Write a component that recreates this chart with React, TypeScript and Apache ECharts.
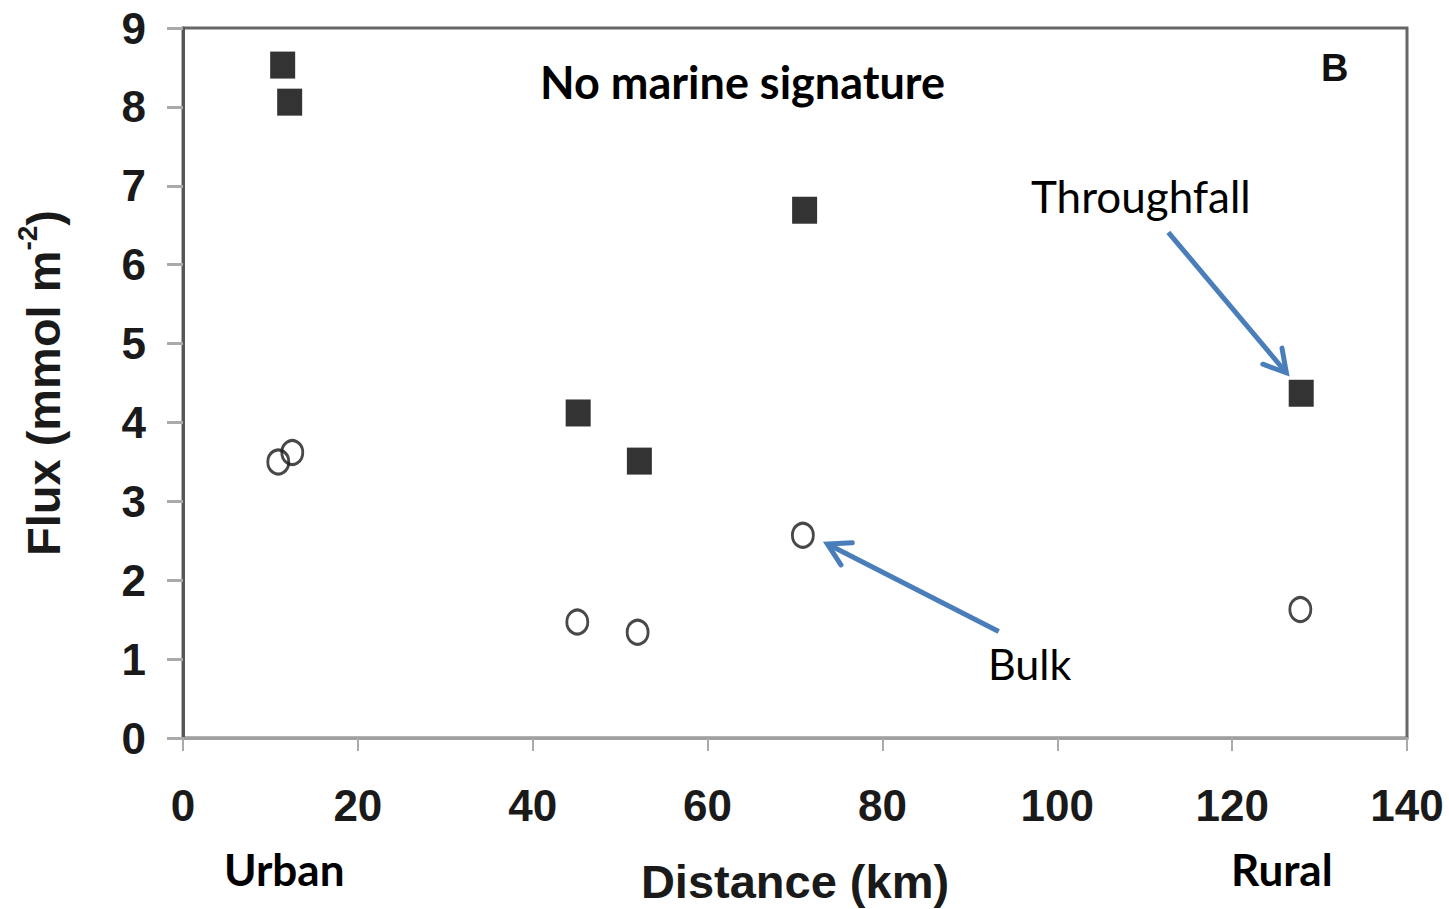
import React, { useEffect, useRef } from "react";
import * as echarts from "echarts";

const distanceThroughfall = [11.4, 12.2, 45.2, 52.2, 71.1, 127.9];
const fluxThroughfall = [8.53, 8.06, 4.12, 3.51, 6.69, 4.37];
const distanceBulk = [10.9, 12.5, 45.1, 52.0, 70.9, 127.8];
const fluxBulk = [3.5, 3.62, 1.47, 1.34, 2.57, 1.63];

const xName = "Distance (km)";
const yNameMain = "Flux (mmol m";
const yNameSup = "-2";
const panelLetter = "B";
const titleText = "No marine signature";

const arrowDefs = [
  { label: "Throughfall", from: [112.7, 6.41], to: [126.2, 4.63] },
  { label: "Bulk", from: [93.3, 1.35], to: [73.7, 2.46] },
];

const AX_FONT = "'Liberation Sans', Arial, sans-serif";
const NOTE_FONT = "Lato, 'Open Sans', sans-serif";
const ARROW_COLOR = "#4a7ebb";

export default function App() {
  const ref = useRef<HTMLDivElement>(null);

  useEffect(() => {
    if (!ref.current) return;
    const chart = echarts.init(ref.current, undefined, { renderer: "svg" });

    const tf = distanceThroughfall.map((d, i) => [d, fluxThroughfall[i]]);
    const bk = distanceBulk.map((d, i) => [d, fluxBulk[i]]);

    chart.setOption({
      animation: false,
      backgroundColor: "#ffffff",
      grid: {
        left: 183,
        top: 28,
        right: 42,
        bottom: 171,
        containLabel: false,
        outerBoundsMode: "none",
        show: true,
        borderColor: "#666",
        borderWidth: 3,
        backgroundColor: "transparent",
      },
      xAxis: {
        type: "value",
        min: 0,
        max: 140,
        interval: 20,
        name: xName,
        nameLocation: "middle",
        nameGap: 120,
        nameTextStyle: { fontFamily: AX_FONT, fontWeight: "bold", fontSize: 47, color: "#1a1a1a" },
        axisLine: { show: true, lineStyle: { color: "#a0a0a0", width: 3 } },
        axisTick: { show: true, length: 13, lineStyle: { color: "#aaa", width: 2 } },
        axisLabel: { margin: 45, fontFamily: AX_FONT, fontWeight: "bold", fontSize: 44, color: "#1a1a1a" },
        splitLine: { show: false },
      },
      yAxis: {
        type: "value",
        min: 0,
        max: 9,
        interval: 1,
        name: `{a|${yNameMain}}{s|${yNameSup}}{a|)}`,
        nameLocation: "middle",
        nameGap: 116,
        nameRotate: 90,
        nameTextStyle: {
          rich: {
            a: { fontFamily: AX_FONT, fontWeight: "bold", fontSize: 47, color: "#1a1a1a", lineHeight: 54, verticalAlign: "bottom" },
            s: { fontFamily: AX_FONT, fontWeight: "bold", fontSize: 28, color: "#1a1a1a", lineHeight: 54, verticalAlign: "top" },
          },
        },
        axisLine: { show: true, lineStyle: { color: "#555", width: 3 } },
        axisTick: { show: true, length: 16, lineStyle: { color: "#aaa", width: 3 } },
        axisLabel: { margin: 37, fontFamily: AX_FONT, fontWeight: "bold", fontSize: 44, color: "#1a1a1a" },
        splitLine: { show: false },
      },
      series: [
        {
          name: "Throughfall",
          type: "scatter",
          data: tf,
          symbol: "rect",
          symbolSize: [25, 27],
          itemStyle: { color: "#000", borderWidth: 0 },
        },
        {
          name: "Bulk",
          type: "scatter",
          data: bk,
          symbol: "circle",
          symbolSize: [21, 24],
          itemStyle: { color: "rgba(255,255,255,0)", borderColor: "#1a1a1a", borderWidth: 3 },
        },
      ],
    });

    const graphics: any[] = [];
    arrowDefs.forEach((a) => {
      const p0 = chart.convertToPixel({ gridIndex: 0 }, a.from) as number[];
      const p1 = chart.convertToPixel({ gridIndex: 0 }, a.to) as number[];
      const dx = p1[0] - p0[0];
      const dy = p1[1] - p0[1];
      const len = Math.sqrt(dx * dx + dy * dy);
      const ux = -dx / len;
      const uy = -dy / len;
      const ang = (30 * Math.PI) / 180;
      const L = 25;
      const rot = (s: number) => [
        p1[0] + L * (ux * Math.cos(s * ang) - uy * Math.sin(s * ang)),
        p1[1] + L * (ux * Math.sin(s * ang) + uy * Math.cos(s * ang)),
      ];
      graphics.push({
        type: "line",
        shape: { x1: p0[0], y1: p0[1], x2: p1[0], y2: p1[1] },
        style: { stroke: ARROW_COLOR, lineWidth: 5, lineCap: "butt" },
        z: 10,
      });
      graphics.push({
        type: "polyline",
        shape: { points: [rot(1), p1, rot(-1)] },
        style: { stroke: ARROW_COLOR, lineWidth: 5, fill: null, lineJoin: "miter", lineCap: "round" },
        z: 10,
      });
    });

    const note = (text: string, x: number, y: number, bold: boolean, size: number) => ({
      type: "text",
      x,
      y,
      z: 20,
      style: {
        text,
        fontFamily: NOTE_FONT,
        fontWeight: bold ? "bold" : "normal",
        fontSize: size,
        fill: "#000",
        textAlign: "left",
        textVerticalAlign: "middle",
      },
    });

    graphics.push(note(titleText, 540, 82, true, 45));
    graphics.push(note(arrowDefs[0].label, 1031, 196, false, 44));
    graphics.push(note(arrowDefs[1].label, 988, 663, false, 43));
    graphics.push(note("Urban", 224, 869, true, 44));
    graphics.push(note("Rural", 1231, 869, true, 44));
    graphics.push({
      type: "text",
      x: 1321,
      y: 68,
      z: 20,
      style: {
        text: panelLetter,
        fontFamily: AX_FONT,
        fontWeight: "bold",
        fontSize: 38,
        fill: "#111",
        textAlign: "left",
        textVerticalAlign: "middle",
      },
    });

    chart.setOption({ graphic: graphics });

    return () => chart.dispose();
  }, []);

  return (
    <div
      ref={ref}
      style={{ position: "fixed", left: 0, top: 0, width: 1449, height: 909 }}
    />
  );
}
